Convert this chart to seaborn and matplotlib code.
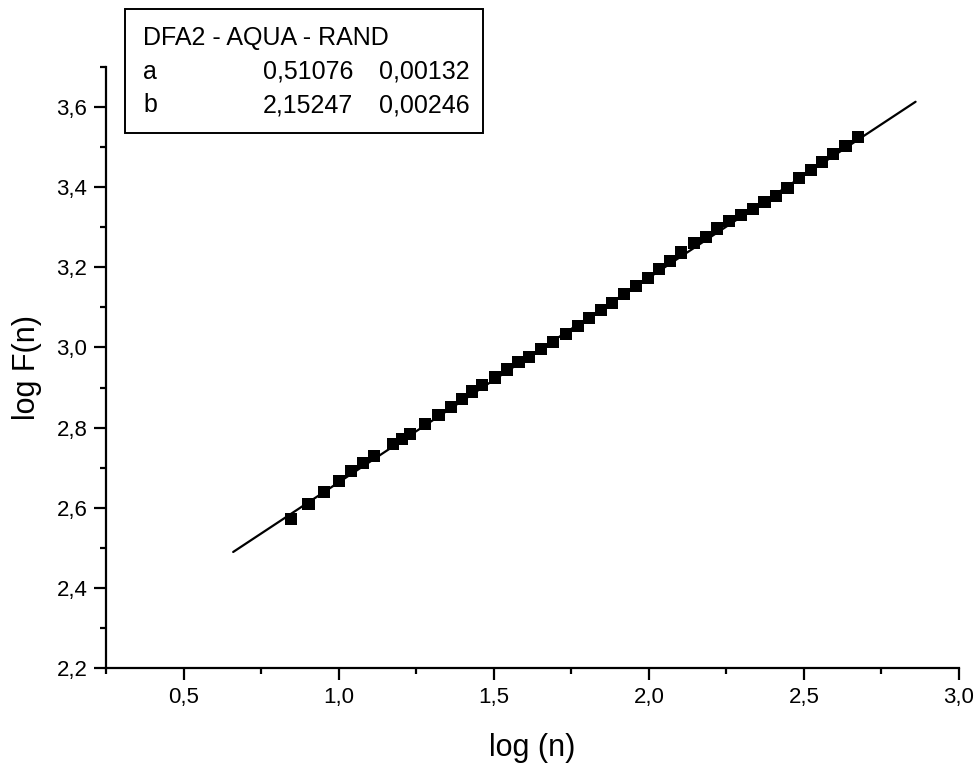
import matplotlib
matplotlib.use("Agg")
import matplotlib.pyplot as plt
import seaborn as sns
from matplotlib.ticker import MultipleLocator, FuncFormatter
from matplotlib.patches import Rectangle

# ---- data ----
log_n = [0.845, 0.903, 0.954, 1.000, 1.041, 1.079, 1.114, 1.176, 1.204, 1.230,
         1.279, 1.322, 1.362, 1.398, 1.431, 1.462, 1.505, 1.544, 1.580, 1.613,
         1.653, 1.690, 1.732, 1.771, 1.806, 1.845, 1.881, 1.919, 1.959, 1.996,
         2.033, 2.068, 2.104, 2.146, 2.183, 2.221, 2.259, 2.298, 2.335, 2.373,
         2.410, 2.447, 2.484, 2.522, 2.558, 2.595, 2.634, 2.673]
log_F = [2.572, 2.609, 2.640, 2.667, 2.692, 2.712, 2.729, 2.759, 2.772, 2.784,
         2.809, 2.831, 2.852, 2.871, 2.890, 2.906, 2.925, 2.945, 2.963, 2.977,
         2.996, 3.014, 3.033, 3.054, 3.073, 3.093, 3.112, 3.133, 3.154, 3.174,
         3.195, 3.216, 3.237, 3.260, 3.276, 3.297, 3.316, 3.331, 3.345, 3.362,
         3.379, 3.399, 3.422, 3.443, 3.464, 3.482, 3.503, 3.526]

fit_a, fit_a_err = 0.51076, 0.00132
fit_b, fit_b_err = 2.15247, 0.00246
fit_x_range = [0.66, 2.86]

legend_title = "DFA2 - AQUA - RAND"
legend_rows = [("a", "0,51076", "0,00132"), ("b", "2,15247", "0,00246")]
x_label = "log (n)"
y_label = "log F(n)"

# ---- style ----
sns.set_theme(style="ticks")
plt.rcParams['font.family'] = ['Liberation Sans', 'DejaVu Sans']
plt.rcParams['text.color'] = 'black'
plt.rcParams['axes.labelcolor'] = 'black'
plt.rcParams['xtick.color'] = 'black'
plt.rcParams['ytick.color'] = 'black'

W, H = 980, 765
fig = plt.figure(figsize=(W / 100, H / 100), dpi=100)
ax = fig.add_axes([106 / W, (H - 668) / H, (959 - 106) / W, (668 - 67) / H])

fit_y = [fit_b + fit_a * x for x in fit_x_range]
sns.lineplot(x=fit_x_range, y=fit_y, ax=ax, color='black', linewidth=1.6)
sns.scatterplot(x=log_n, y=log_F, ax=ax, marker='s', s=76, color='black',
                edgecolor='none', zorder=3)

ax.set_xlim(0.25, 3.0)
ax.set_ylim(2.2, 3.7)
ax.xaxis.set_major_locator(MultipleLocator(0.5))
ax.xaxis.set_minor_locator(MultipleLocator(0.25))
ax.yaxis.set_major_locator(MultipleLocator(0.2))
ax.yaxis.set_minor_locator(MultipleLocator(0.1))
fmt1 = FuncFormatter(lambda v, p: f"{v:.1f}".replace('.', ','))
ax.xaxis.set_major_formatter(fmt1)
ax.yaxis.set_major_formatter(fmt1)

for s in ['top', 'right']:
    ax.spines[s].set_visible(False)
for s in ['left', 'bottom']:
    ax.spines[s].set_linewidth(1.6)
    ax.spines[s].set_color('black')
ax.tick_params(which='major', direction='out', length=8.5, width=1.6,
               labelsize=16, colors='black', pad=5)
ax.tick_params(which='minor', direction='out', length=4.5, width=1.6, colors='black')

ax.set_xlabel(x_label, fontsize=22, labelpad=18, color='black')
ax.set_ylabel(y_label, fontsize=22, labelpad=10, color='black')

# ---- fit parameter box ----
def fx(px):
    return px / W

def fy(py):
    return 1 - py / H

box = Rectangle((fx(125), fy(133)), fx(483) - fx(125), fy(9) - fy(133),
                transform=fig.transFigure, facecolor='white', edgecolor='black',
                linewidth=1.4, zorder=5)
fig.patches.append(box)
fs = 18
fig.text(fx(143), fy(38), legend_title, fontsize=fs, va='center', ha='left', zorder=6)
for i, (name, val, err) in enumerate(legend_rows):
    yy = fy(72 + 33 * i)
    fig.text(fx(143), yy, name, fontsize=fs, va='center', ha='left', zorder=6)
    fig.text(fx(353), yy, val, fontsize=fs, va='center', ha='right', zorder=6)
    fig.text(fx(470), yy, err, fontsize=fs, va='center', ha='right', zorder=6)

fig.savefig("out.png", dpi=100, facecolor='white')
